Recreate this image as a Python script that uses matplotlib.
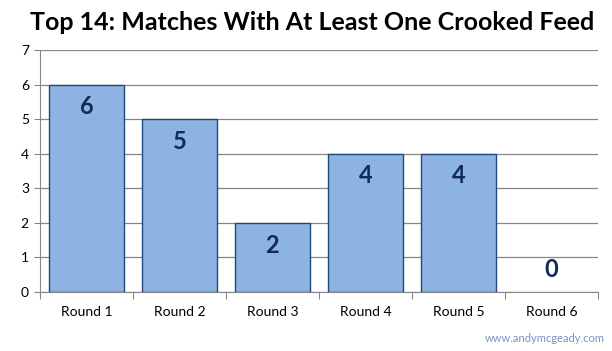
import matplotlib.pyplot as plt
import numpy as np

rounds = ['Round 1', 'Round 2', 'Round 3', 'Round 4', 'Round 5', 'Round 6']
matches = [6, 5, 2, 4, 4, 0]
yticks = [0, 1, 2, 3, 4, 5, 6, 7]

plt.rcParams['font.family'] = ['Lato', 'DejaVu Sans']

fig = plt.figure(figsize=(6.12, 3.51), dpi=100)
ax = fig.add_axes([40/612, 1 - 292/351, 558/612, 242/351])

x = np.arange(len(rounds))
edge_w = [1 if v > 0 else 0 for v in matches]
bars = ax.bar(x, matches, width=0.8, color='#8DB3E2', edgecolor='#1F497D', linewidth=edge_w, zorder=3)

for xi, v in zip(x, matches):
	off = -16 if v > 0 else 16
	ax.annotate(str(v), (xi, v), xytext=(0, off), textcoords='offset points',
		ha='center', va='center', fontsize=17, fontweight='bold', color='#122B57', zorder=4)

ax.set_xlim(-0.5, len(rounds) - 0.5)
ax.set_ylim(0, 7)
ax.set_yticks(yticks)
ax.yaxis.grid(True, color='#868686', linewidth=0.9, zorder=0)
ax.set_xticks(np.arange(len(rounds) + 1) - 0.5, minor=False)
ax.set_xticklabels([])
ax.set_xticks(x, minor=True)
ax.set_xticklabels(rounds, minor=True)
ax.tick_params(axis='x', which='major', length=5, color='#868686', direction='out')
ax.tick_params(axis='x', which='minor', length=0, pad=10, labelsize=10)
ax.tick_params(axis='y', length=4, color='#868686', labelsize=10, pad=4)

for s in ['top', 'right']:
	ax.spines[s].set_visible(False)
for s in ['left', 'bottom']:
	ax.spines[s].set_color('#868686')

fig.text(312/612, 1 - 22/351, 'Top 14: Matches With At Least One Crooked Feed',
	ha='center', va='center', fontsize=18, fontweight='bold', color='black')
fig.text(605/612, 1 - 338/351, 'www.andymcgeady.com', ha='right', va='center',
	fontsize=8, color='#7F8FC8')

fig.savefig('out.png', dpi=100)
